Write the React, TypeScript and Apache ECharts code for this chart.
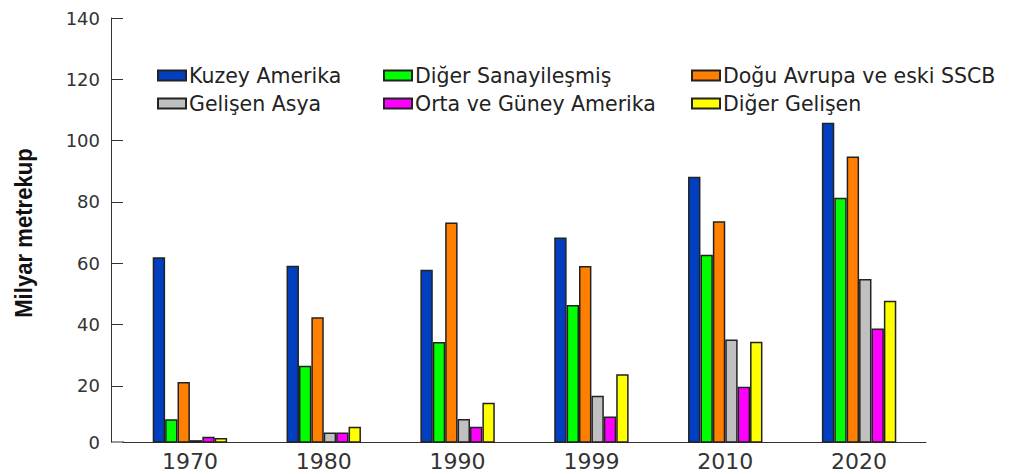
import React, { useEffect, useRef } from 'react';
import * as echarts from 'echarts';

const years = ['1970', '1980', '1990', '1999', '2010', '2020'];
const seriesNames = [
  'Kuzey Amerika',
  'Diğer Sanayileşmiş',
  'Doğu Avrupa ve eski SSCB',
  'Gelişen Asya',
  'Orta ve Güney Amerika',
  'Diğer Gelişen',
];
const kuzeyAmerika = [62.0, 59.2, 57.9, 68.4, 88.2, 105.8];
const digerSanayilesmis = [9.1, 26.6, 34.3, 46.4, 62.8, 81.4];
const doguAvrupa = [21.3, 42.4, 73.3, 59.1, 73.7, 94.8];
const gelisenAsya = [2.3, 4.8, 9.2, 16.8, 35.1, 54.9];
const ortaGuneyAmerika = [3.4, 4.8, 6.7, 10.0, 19.7, 38.7];
const digerGelisen = [3.0, 6.7, 14.5, 23.8, 34.4, 47.8];
const yTickValues = [20, 40, 60, 80, 100, 120, 140];
const yAxisMin = 1.7;
const yAxisMax = 140;
const yTitle = 'Milyar metrekup';

const colors = ['#0040c0', '#00ff00', '#ff8000', '#c0c0c0', '#ff00ff', '#ffff00'];
const FONT = 'DejaVu Sans';

export default function App() {
  const ref = useRef<HTMLDivElement>(null);
  useEffect(() => {
    const chart = echarts.init(ref.current!, null, { renderer: 'svg' });
    const values = [kuzeyAmerika, digerSanayilesmis, doguAvrupa, gelisenAsya, ortaGuneyAmerika, digerGelisen];
    const legendCommon = {
      orient: 'vertical',
      top: 60,
      itemWidth: 28,
      itemHeight: 10,
      itemGap: 7,
      icon: 'rect',
      selectedMode: false,
      textStyle: { fontFamily: FONT, fontSize: 20.5, color: '#222', lineHeight: 20, padding: [0, 0, 0, -2] },
    };
    chart.setOption({
      animation: false,
      backgroundColor: '#fff',
      grid: { left: 123, right: 95, top: 18, bottom: 32, containLabel: false },
      legend: [
        { ...legendCommon, left: 152, data: [seriesNames[0], seriesNames[3]] },
        { ...legendCommon, left: 378, data: [seriesNames[1], seriesNames[4]] },
        { ...legendCommon, left: 686, data: [seriesNames[2], seriesNames[5]] },
      ],
      xAxis: {
        type: 'category',
        data: years,
        axisLine: { show: true, lineStyle: { color: '#333', width: 1 } },
        axisTick: { show: false },
        axisLabel: { fontFamily: FONT, fontSize: 22, color: '#333', margin: 8 },
        splitLine: { show: false },
      },
      yAxis: {
        type: 'value',
        min: yAxisMin,
        max: yAxisMax,
        offset: 12,
        axisLine: { show: true, lineStyle: { color: '#333', width: 1 } },
        axisTick: {
          show: true,
          inside: true,
          length: 12,
          lineStyle: { color: '#333' },
          customValues: yTickValues,
        },
        axisLabel: {
          fontFamily: FONT,
          fontSize: 18,
          color: '#333',
          margin: 11,
          customValues: [yAxisMin, ...yTickValues],
          formatter: (v: number) => (v < 10 ? '0' : String(v)),
        },
        splitLine: { show: false },
      },
      graphic: [
        {
          type: 'line',
          shape: { x1: 111, y1: 442, x2: 124, y2: 442 },
          style: { stroke: '#333', lineWidth: 1 },
          silent: true,
        },
        {
          type: 'text',
          x: 24,
          y: 233,
          rotation: Math.PI / 2,
          scaleX: 1.23,
          scaleY: 1.3,
          silent: true,
          style: {
            text: yTitle,
            fontFamily: 'Liberation Sans',
            fontWeight: 'bold',
            fontSize: 18,
            fill: '#111',
            align: 'center',
            verticalAlign: 'middle',
          },
        },
      ],
      series: seriesNames.map((name, i) => ({
        name,
        type: 'bar',
        data: values[i],
        barWidth: 12.4,
        barGap: '0%',
        itemStyle: { color: colors[i], borderColor: '#222', borderWidth: 1.5 },
      })),
    });
    return () => chart.dispose();
  }, []);
  return (
    <div
      ref={ref}
      style={{ position: 'fixed', left: 0, top: 0, width: 1021, height: 474, background: '#fff' }}
    />
  );
}
